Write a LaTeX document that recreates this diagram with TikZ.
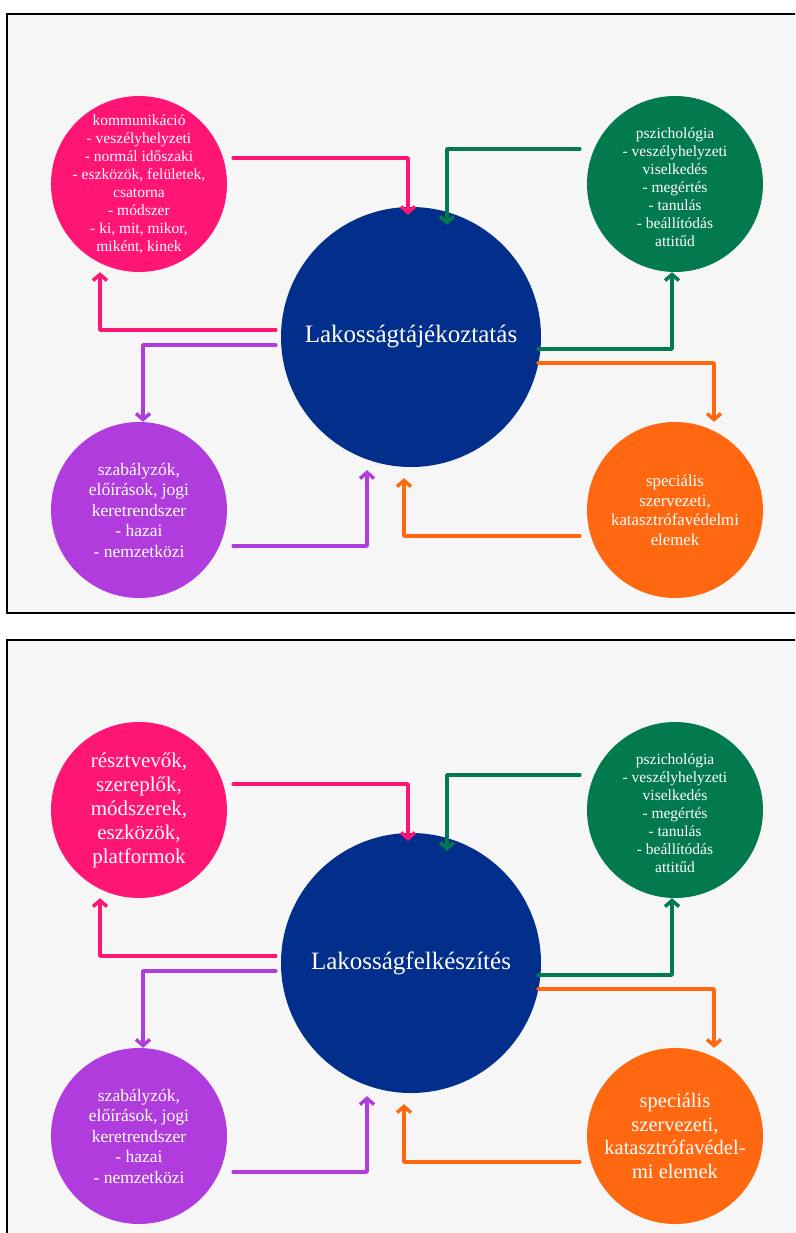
\documentclass[tikz,border=0pt]{standalone}
\usepackage{fontspec}
\setmainfont{Liberation Serif}
\usetikzlibrary{arrows.meta}
\definecolor{rozsa}{HTML}{FF1574}
\definecolor{zold}{HTML}{037A4D}
\definecolor{melykek}{HTML}{022E8C}
\definecolor{lila}{HTML}{B03CDE}
\definecolor{narancs}{HTML}{FF6811}
\definecolor{hatter}{HTML}{F6F6F6}
\newcommand{\kisbetu}{\fontsize{15.5}{18}\selectfont}
\newcommand{\kozepbetu}{\fontsize{17.5}{20.5}\selectfont}
\newcommand{\nagybetu}{\fontsize{20.5}{23.5}\selectfont}

\begin{document}
\begin{tikzpicture}[x = 1pt, y = -1pt,
  kor/.style = {circle, minimum size = 176pt, inner sep = 0pt},
  nagykor/.style = {circle, minimum size = 260pt, inner sep = 0pt, fill = melykek, text = white, font = \fontsize{25}{29}\selectfont},
  felirat/.style = {text = white, align = center, inner sep = 0pt},
  nyil/.style = {line width = 3.5pt, line cap = round, line join = round, -{Straight Barb[length = 6pt, width = 14pt]}},
  keret/.style = {line width = 2.5pt, draw = black, fill = hatter}]
\useasboundingbox (0,0) rectangle (795,1233);
\clip (0,0) rectangle (795,1233);
\begin{scope}
\draw[keret] (7,14) rectangle (810,613);
\node[nagykor] (lakA) at (411,337) {Lakosságtájékoztatás};
\node[kor, fill = rozsa] (kommA) at (139,184) {};
\node[felirat, font = \kisbetu] (kommAfel) at (kommA) {kommunikáció\\- veszélyhelyzeti\\- normál időszaki\\- eszközök, felületek,\\csatorna\\- módszer\\- ki, mit, mikor,\\miként, kinek};
\node[kor, fill = zold] (pszA) at (675,184) {};
\node[felirat, font = \kisbetu] (pszAfel) at ([yshift = -3pt]pszA.center) {pszichológia\\- veszélyhelyzeti\\viselkedés\\- megértés\\- tanulás\\- beállítódás\\attitűd};
\node[kor, fill = lila] (szabA) at (139,510) {};
\node[felirat, font = \kozepbetu] (szabAfel) at (szabA) {szabályzók,\\előírások, jogi\\keretrendszer\\- hazai\\- nemzetközi};
\node[kor, fill = narancs] (specA) at (675,510) {};
\node[felirat, font = \fontsize{16.8}{19.5}\selectfont] (specAfel) at (specA) {speciális\\szervezeti,\\katasztrófavédelmi\\elemek};
\draw[nyil, rozsa] ([xshift = 6pt, yshift = 26pt]kommA.east) -| ([xshift = -3pt, yshift = -8pt]lakA.north);
\draw[nyil, rozsa] ([xshift = -5pt, yshift = 7pt]lakA.west) -| ([xshift = -39pt]kommA.south);
\draw[nyil, zold] ([xshift = -7pt, yshift = 35pt]pszA.west) -| ([xshift = 36pt, yshift = -18pt]lakA.north);
\draw[nyil, zold] ([xshift = -3pt, yshift = -12pt]lakA.east) -| ([xshift = -3pt]pszA.south);
\draw[nyil, narancs] ([xshift = -3pt, yshift = -26pt]lakA.east) -| ([xshift = 39pt]specA.north);
\draw[nyil, narancs] ([xshift = -7pt, yshift = -26pt]specA.west) -| ([xshift = -7pt, yshift = -11pt]lakA.south);
\draw[nyil, lila] ([xshift = -5pt, yshift = -8pt]lakA.west) -| ([xshift = 4pt]szabA.north);
\draw[nyil, lila] ([xshift = 6pt, yshift = -36pt]szabA.east) -| ([xshift = -44pt, yshift = -3pt]lakA.south);
\end{scope}
\begin{scope}[yshift = -626]
\draw[keret] (7,14) rectangle (810,640);
\node[nagykor] (lakB) at (411,337) {Lakosságfelkészítés};
\node[kor, fill = rozsa] (resztB) at (139,184) {};
\node[felirat, font = \fontsize{21}{24}\selectfont] (resztBfel) at (resztB) {résztvevők,\\szereplők,\\módszerek,\\eszközök,\\platformok};
\node[kor, fill = zold] (pszB) at (675,184) {};
\node[felirat, font = \kisbetu] (pszBfel) at ([yshift = -3pt]pszB.center) {pszichológia\\- veszélyhelyzeti\\viselkedés\\- megértés\\- tanulás\\- beállítódás\\attitűd};
\node[kor, fill = lila] (szabB) at (139,510) {};
\node[felirat, font = \kozepbetu] (szabBfel) at (szabB) {szabályzók,\\előírások, jogi\\keretrendszer\\- hazai\\- nemzetközi};
\node[kor, fill = narancs] (specB) at (675,510) {};
\node[felirat, font = \nagybetu] (specBfel) at (specB) {speciális\\szervezeti,\\katasztrófavédel-\\mi elemek};
\draw[nyil, rozsa] ([xshift = 6pt, yshift = 26pt]resztB.east) -| ([xshift = -3pt, yshift = -8pt]lakB.north);
\draw[nyil, rozsa] ([xshift = -5pt, yshift = 7pt]lakB.west) -| ([xshift = -39pt]resztB.south);
\draw[nyil, zold] ([xshift = -7pt, yshift = 35pt]pszB.west) -| ([xshift = 36pt, yshift = -18pt]lakB.north);
\draw[nyil, zold] ([xshift = -3pt, yshift = -12pt]lakB.east) -| ([xshift = -3pt]pszB.south);
\draw[nyil, narancs] ([xshift = -3pt, yshift = -26pt]lakB.east) -| ([xshift = 39pt]specB.north);
\draw[nyil, narancs] ([xshift = -7pt, yshift = -26pt]specB.west) -| ([xshift = -7pt, yshift = -11pt]lakB.south);
\draw[nyil, lila] ([xshift = -5pt, yshift = -8pt]lakB.west) -| ([xshift = 4pt]szabB.north);
\draw[nyil, lila] ([xshift = 6pt, yshift = -36pt]szabB.east) -| ([xshift = -44pt, yshift = -3pt]lakB.south);
\end{scope}
\end{tikzpicture}
\end{document}
